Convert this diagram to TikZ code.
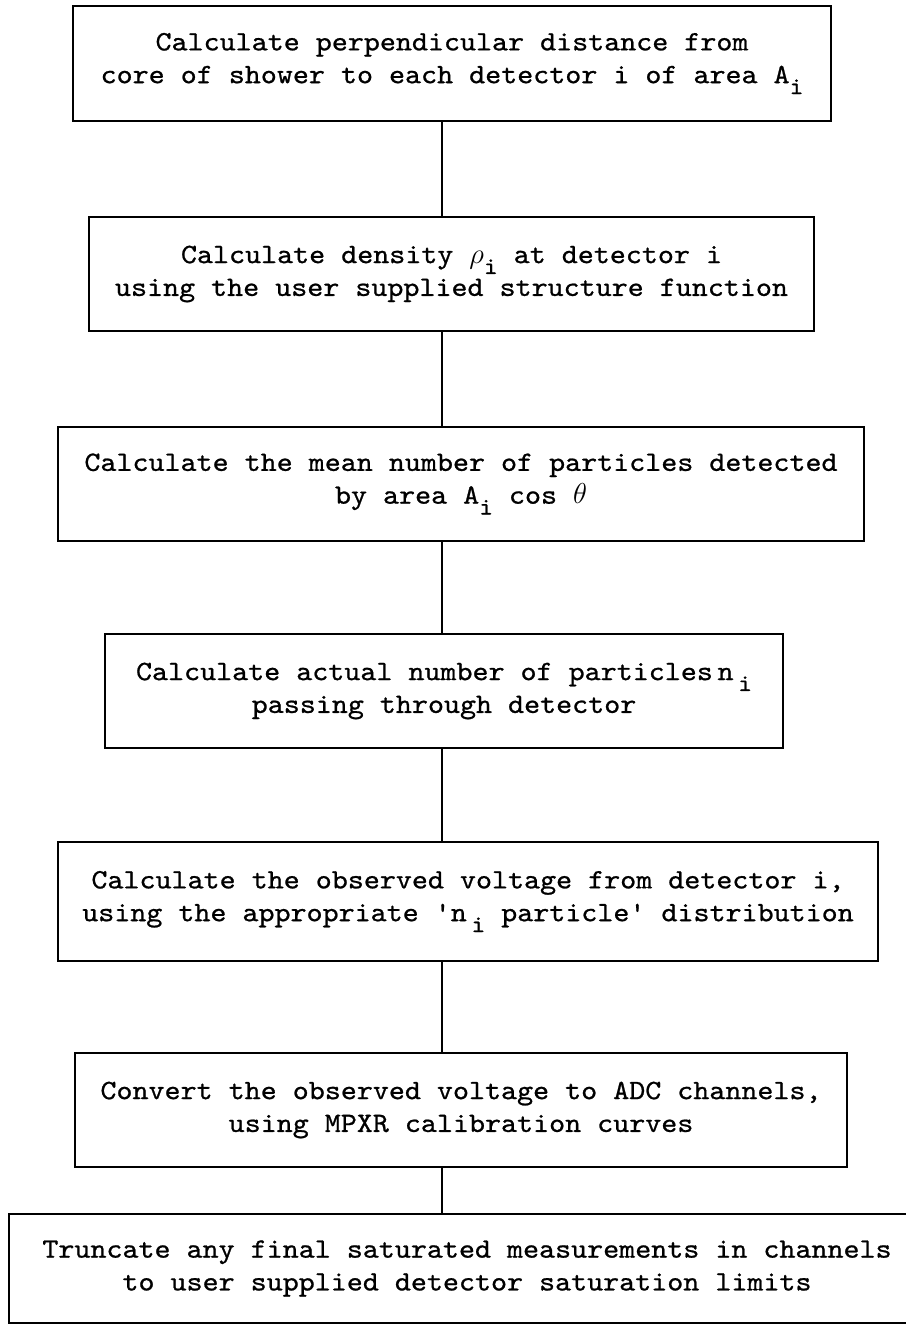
\documentclass[tikz,border=0pt]{standalone}
\usepackage{fontspec}
\setmonofont{lmmono10-regular.otf}[FakeStretch=1.09,FakeBold=0.8]

% lowered index as typed on the original sheet
\newcommand{\idx}[1]{\raisebox{-0.9ex}{\fontsize{12}{12}\selectfont #1}}

\begin{document}
\begin{tikzpicture}[x=0.5pt, y=-0.5pt,
    stepbox/.style={draw, line width=1.2pt, align=center, inner sep=0pt,
        font=\ttfamily\fontsize{14}{16.4}\selectfont},
    connector/.style={line width=1pt}]
    \def\spineX{442}

    \useasboundingbox (0,0) rectangle (905,1325);

    % Spine of the flow chart
    \coordinate (spine) at (\spineX,0);

    % Draw the steps
    \node[stepbox, minimum width=379pt, minimum height=57.5pt] (perp) at (452,63.5)
        {Calculate perpendicular distance from\\core of shower to each detector i of area A\idx{i}};
    \node[stepbox, minimum width=362.5pt, minimum height=57pt] (density) at (451.5,274)
        {Calculate density $\rho$\idx{i} at detector i\\using the user supplied structure function};
    \node[stepbox, minimum width=403pt, minimum height=57pt] (mean) at (461,484)
        {Calculate the mean number of particles detected\\by area A\idx{i} cos $\theta$};
    \node[stepbox, minimum width=339pt, minimum height=57pt] (actual) at (444,691)
        {Calculate actual number of particles\,n\,\idx{i}\\passing through detector};
    \node[stepbox, minimum width=410pt, minimum height=59.5pt] (voltage) at (468,901.5)
        {Calculate the observed voltage from detector i,\\using the appropriate 'n\,\idx{i} particle' distribution};
    \node[stepbox, minimum width=386pt, minimum height=57pt] (adc) at (461,1110)
        {Convert the observed voltage to ADC channels,\\using MPXR calibration curves};
    \node[stepbox, minimum width=458pt, minimum height=54.5pt] (truncate) at (467,1268.5)
        {Truncate any final saturated measurements in channels\\to user supplied detector saturation limits};

    % Join the steps
    \foreach \from/\to in {perp/density, density/mean, mean/actual,
                           actual/voltage, voltage/adc, adc/truncate}
        \draw[connector] (\from.south -| spine) -- (\to.north -| spine);

\end{tikzpicture}
\end{document}
